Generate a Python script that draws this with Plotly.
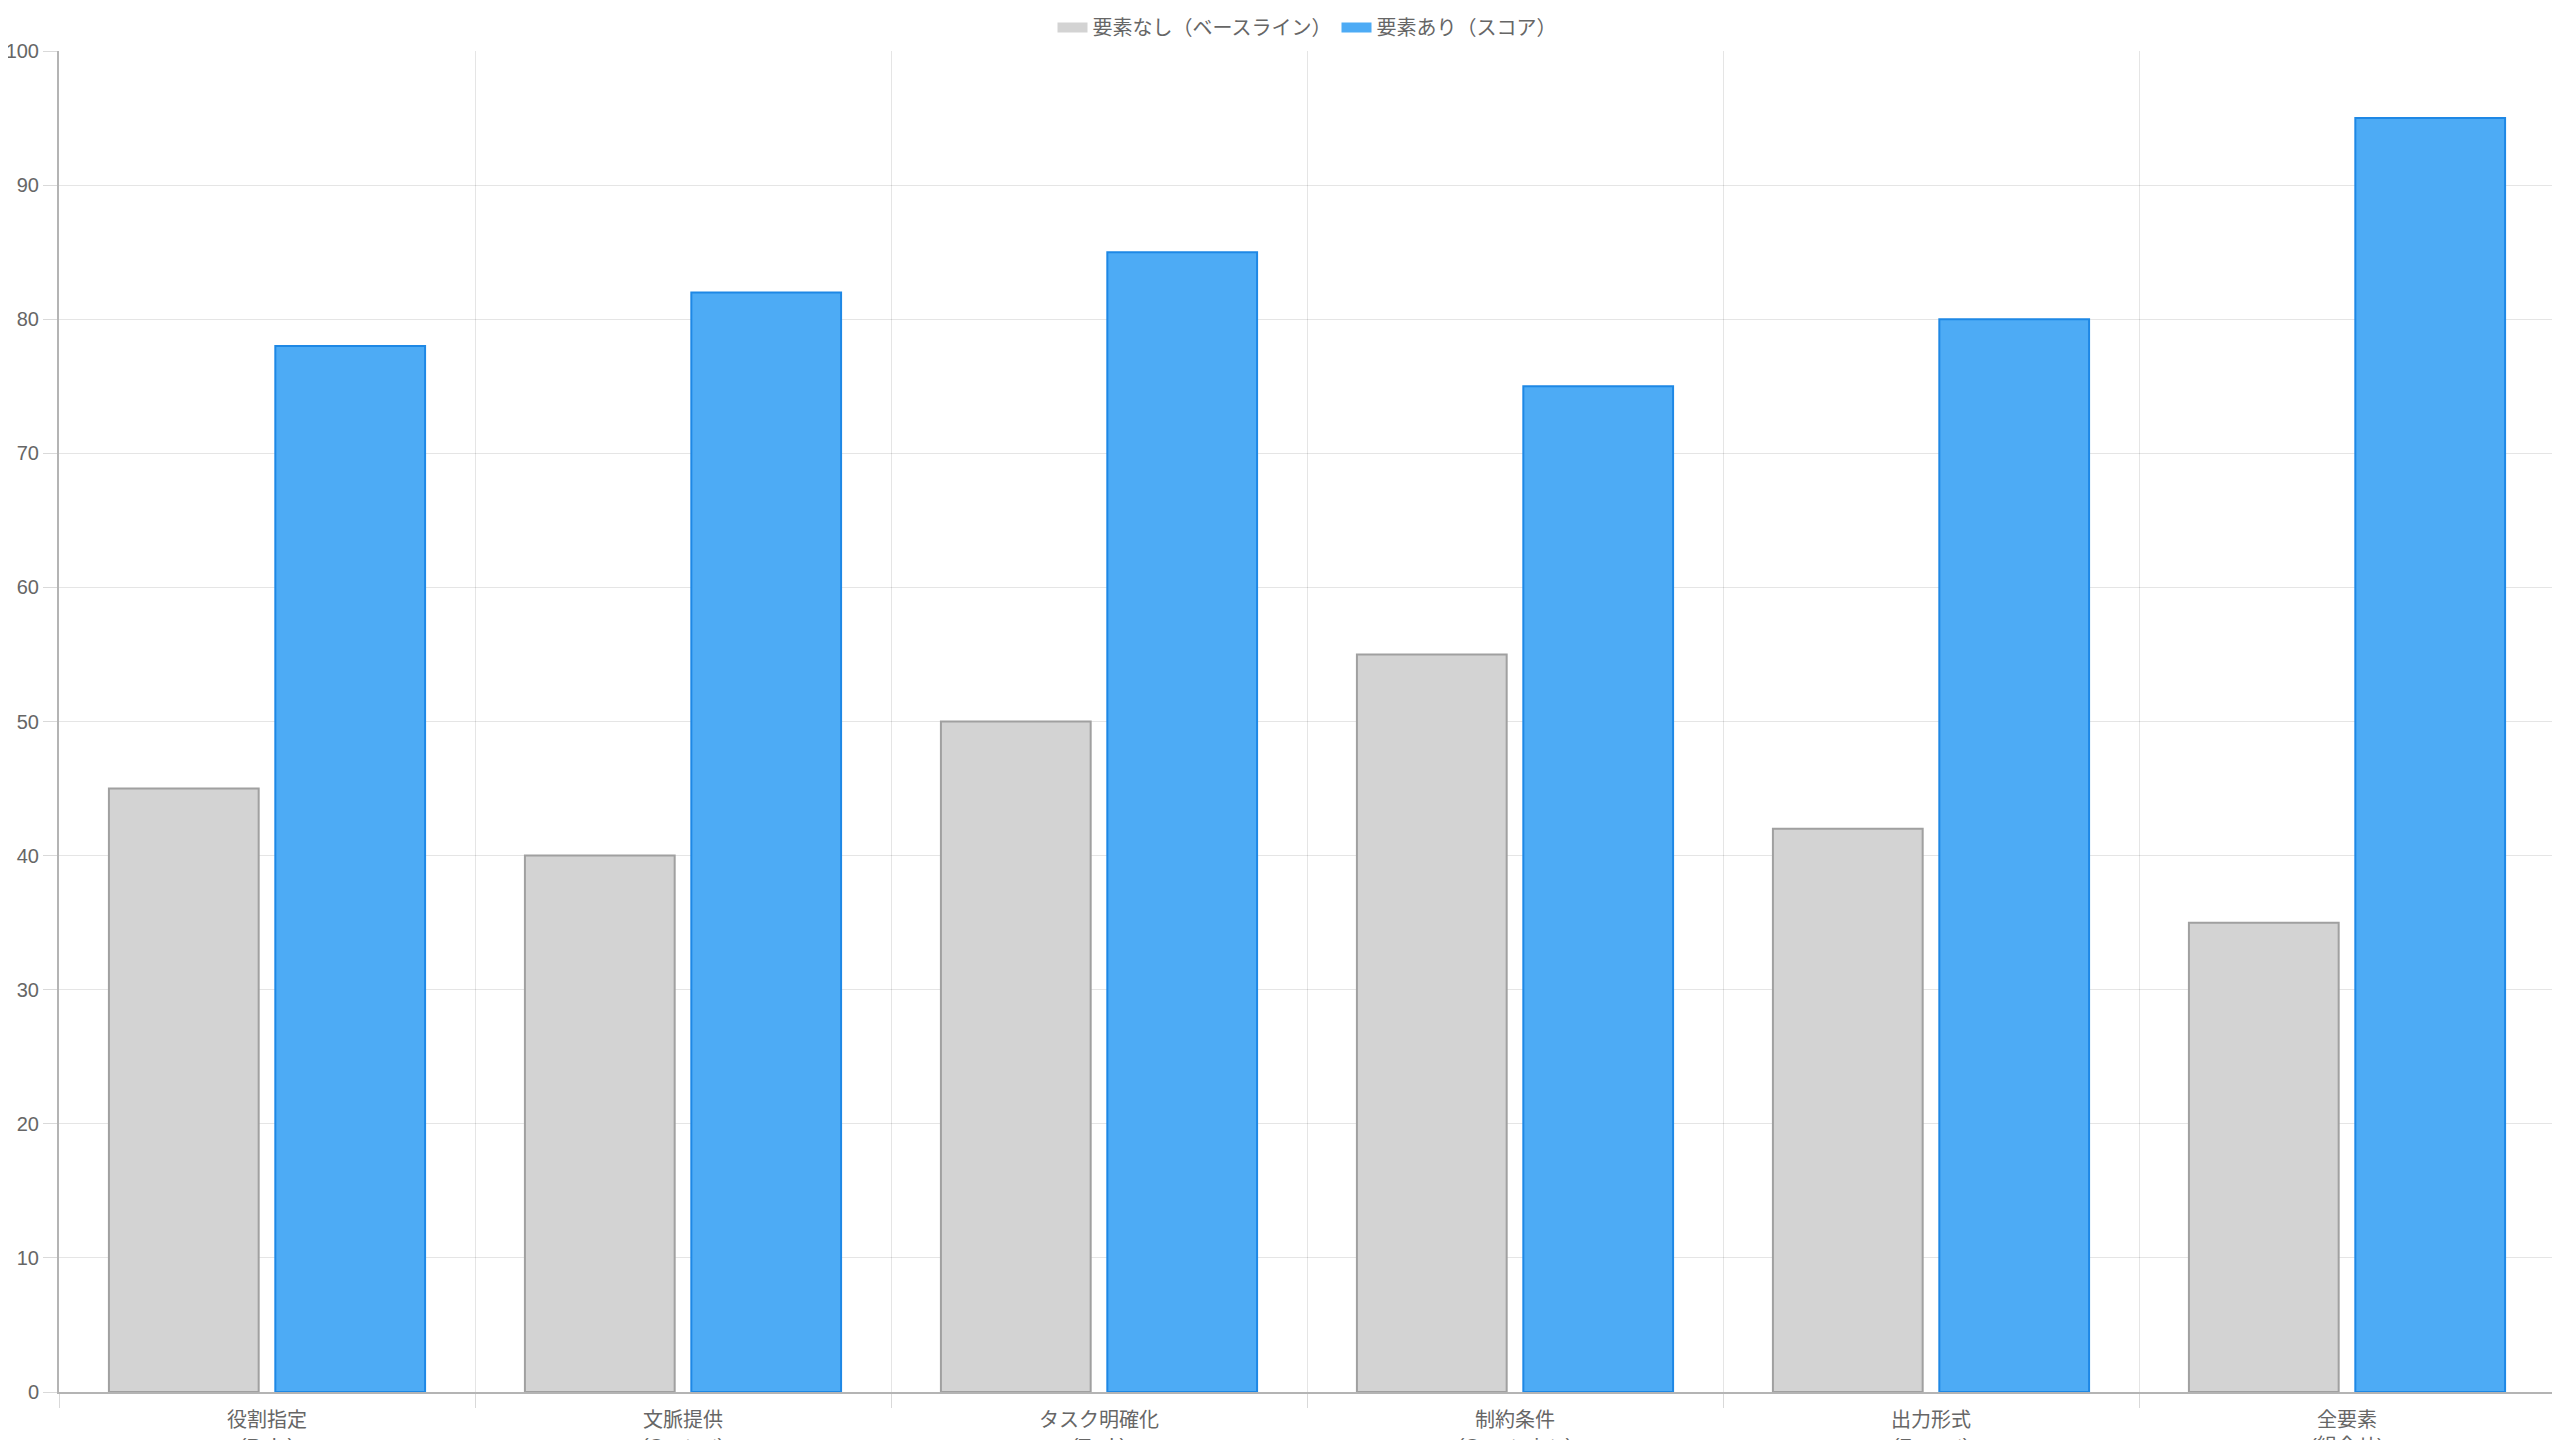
import plotly.graph_objects as go

categories = ["役割指定<br>(Role)", "文脈提供<br>(Context)", "タスク明確化<br>(Task)",
              "制約条件<br>(Constraints)", "出力形式<br>(Format)", "全要素<br>(組合せ)"]
baseline = [45, 40, 50, 55, 42, 35]
score = [78, 82, 85, 75, 80, 95]
y_ticks = [0, 10, 20, 30, 40, 50, 60, 70, 80, 90, 100]
series_names = ["要素なし（ベースライン）", "要素あり（スコア）"]

font_family = "Liberation Sans, Noto Sans CJK JP, sans-serif"
fill_colors = ["rgb(211,211,211)", "rgb(77,171,245)"]
line_colors = ["rgb(160,160,160)", "rgb(30,136,229)"]

traces = []
for name, vals, fc, lc in zip(series_names, [baseline, score], fill_colors, line_colors):
    traces.append(go.Bar(
        x=categories,
        y=vals,
        name=name,
        legendgroup=name,
        showlegend=False,
        marker={"color": fc, "line": {"color": lc, "width": 2}},
    ))
# wide legend swatches, like the original chart's boxes
for name, fc in zip(series_names, fill_colors):
    traces.append(go.Scatter(
        x=[None], y=[None],
        mode="lines",
        name=name,
        legendgroup=name,
        line={"color": fc, "width": 20},
    ))

# page body has an 8px margin, so the figure is shifted by 8px
fig = go.Figure(traces).update_layout({
    "width": 2552,
    "height": 1432,
    "margin": {"t": 43, "b": 48, "l": 51, "r": 5},
    "paper_bgcolor": "white",
    "plot_bgcolor": "white",
    "barmode": "group",
    "bargap": 0.2,
    "bargroupgap": 0.1,
    "font": {"family": font_family, "size": 20, "color": "#666666"},
    "legend": {"orientation": "h", "x": 0.5, "xanchor": "center",
               "yref": "container", "y": 1.0, "yanchor": "top",
               "font": {"size": 20, "color": "#666666"}},
    "showlegend": True,
})

fig.update_xaxes({
    "tickson": "boundaries",
    "showgrid": True,
    "gridcolor": "rgba(0,0,0,0.1)",
    "gridwidth": 1,
    "ticks": "outside",
    "ticklen": 14,
    "tickcolor": "rgba(0,0,0,0.15)",
    "ticklabelstandoff": 9,
    "showline": True,
    "linecolor": "rgb(180,180,180)",
    "linewidth": 2,
    "automargin": False,
    "tickfont": {"size": 20, "color": "#666666"},
})
fig.update_yaxes({
    "range": [0, 100],
    "tickvals": y_ticks,
    "showgrid": True,
    "gridcolor": "rgba(0,0,0,0.1)",
    "gridwidth": 1,
    "zeroline": False,
    "ticks": "outside",
    "ticklen": 14,
    "tickcolor": "rgba(0,0,0,0.15)",
    "showline": True,
    "linecolor": "rgb(180,180,180)",
    "linewidth": 2,
    "automargin": False,
    "tickfont": {"size": 20, "color": "#666666"},
})

fig.write_html("out.html")
